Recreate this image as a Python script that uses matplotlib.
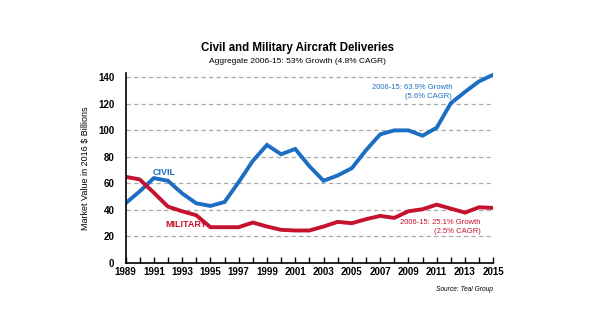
import matplotlib
matplotlib.use("Agg")
import matplotlib.pyplot as plt
from matplotlib.ticker import MultipleLocator

plt.rcParams['font.family'] = ['Liberation Sans', 'DejaVu Sans']

years = list(range(1989, 2016))
civil = [45, 54, 64, 62, 52.5, 45, 43, 46, 61, 77, 89, 82, 86, 73, 62, 66, 71.5, 85,
         97, 100, 100, 96, 102, 120.5, 129, 137, 142]
military = [65, 63, 53, 42.5, 39, 36, 27, 27, 27, 30.5, 27.5, 25, 24.5, 24.5, 27.5, 31,
            30, 33, 35.5, 34, 39, 40.5, 44, 41, 38, 42, 41.5]
xtick_years = list(range(1989, 2016, 2))

blue = "#1b6ec2"
red = "#c4122f"

fig = plt.figure(figsize=(5.95, 3.35), dpi=100)
ax = fig.add_axes([0.211, 0.215, 0.618, 0.566])

for y in range(20, 141, 20):
    ax.axhline(y, color="#aaaaaa", lw=0.9, ls=(0, (3.5, 2.5)), zorder=0)

ax.plot(years, civil, color=blue, lw=2.8, solid_joinstyle="miter")
ax.plot(years, military, color=red, lw=2.8, solid_joinstyle="miter")

ax.set_xlim(1989, 2015)
ax.set_ylim(0, 143)
ax.set_xticks(xtick_years)
ax.xaxis.set_minor_locator(MultipleLocator(1))
ax.set_yticks(range(0, 141, 20))
ax.tick_params(axis="x", which="both", direction="in", length=4, width=1,
               labelsize=7, pad=3)
ax.tick_params(axis="y", length=0, labelsize=7, pad=8)
for lab in ax.get_xticklabels() + ax.get_yticklabels():
    lab.set_fontweight("bold")
for s in ["top", "right"]:
    ax.spines[s].set_visible(False)
ax.spines["left"].set_linewidth(1.2)
ax.spines["bottom"].set_linewidth(1.2)

ax.set_ylabel("Market Value in 2016 $ Billions", fontsize=6.5, labelpad=6)

ax.text(1990.9, 68.5, "CIVIL", color=blue, fontsize=6.5, fontweight="bold", va="center")
ax.text(1991.8, 29, "MILITARY", color=red, fontsize=6.5, fontweight="bold", va="center")
ax.text(2012.1, 129, "2006-15: 63.9% Growth\n(5.6% CAGR)", color=blue, fontsize=5.5,
        ha="right", va="center", linespacing=1.4)
ax.text(2014.1, 27, "2006-15: 25.1% Growth\n(2.5% CAGR)", color=red, fontsize=5.5,
        ha="right", va="center", linespacing=1.4)

fig.text(0.5, 0.848, "Civil and Military Aircraft Deliveries", ha="center",
         fontsize=8.3, fontweight="bold")
fig.text(0.5, 0.812, "Aggregate 2006-15: 53% Growth (4.8% CAGR)", ha="center",
         fontsize=6)
fig.text(0.829, 0.13, "Source: Teal Group", ha="right", fontsize=4.8, style="italic")

fig.savefig("out.png", dpi=100, facecolor="white")
